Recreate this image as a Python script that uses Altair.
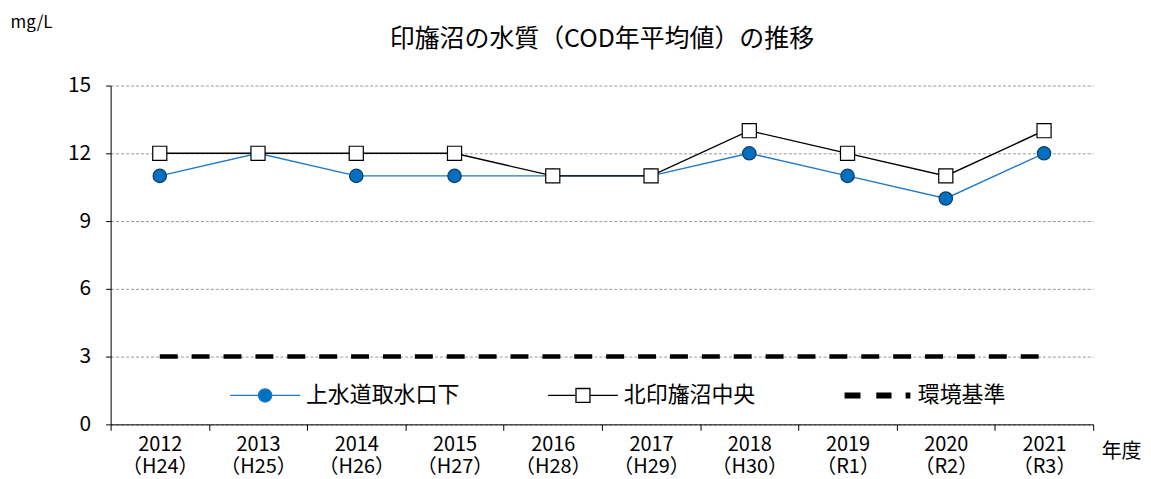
import altair as alt
import pandas as pd

years = ["2012", "2013", "2014", "2015", "2016", "2017", "2018", "2019", "2020", "2021"]
eras = ["（H24）", "（H25）", "（H26）", "（H27）", "（H28）", "（H29）", "（H30）", "（R1）", "（R2）", "（R3）"]
intake = [11, 12, 11, 11, 11, 11, 12, 11, 10, 12]
north = [12, 12, 12, 12, 11, 11, 13, 12, 11, 13]
standard = [3, 3, 3, 3, 3, 3, 3, 3, 3, 3]
series_names = ["上水道取水口下", "北印旛沼中央", "環境基準"]
y_ticks = [0, 3, 6, 9, 12, 15]

FONT = "Noto Sans CJK JP"
BLUE_LINE = "#1f78c8"
BLUE_FILL = "#0070c0"
BLUE_EDGE = "#163a66"

labels = [f"{y}|{e}" for y, e in zip(years, eras)]
rows = []
for name, vals in zip(series_names, [intake, north, standard]):
    for lab, v in zip(labels, vals):
        rows.append({"label": lab, "series": name, "value": v})
df = pd.DataFrame(rows)

x_enc = alt.X(
    "label:N", sort=labels,
    scale=alt.Scale(paddingInner=0, paddingOuter=0),
    axis=alt.Axis(
        title="年度", labelExpr="split(datum.label, '|')", labelAngle=0,
        labelFontSize=20, labelLineHeight=22, labelPadding=4, labelColor="black",
        labelFont=FONT, tickBand="extent", tickSize=6, tickColor="black",
        domainColor="black", titleFont=FONT, titleFontSize=20, titleFontWeight="normal",
        titleAngle=0, titleX=994, titleY=27, titleAlign="left", titleBaseline="middle",
        titleColor="black",
    ),
)
y_enc = alt.Y(
    "value:Q",
    scale=alt.Scale(domain=[0, 15], nice=False),
    axis=alt.Axis(
        title="mg/L", values=y_ticks, labelFontSize=21, labelFont=FONT, labelColor="black",
        labelPadding=15, tickSize=5, tickColor="black", domainColor="black",
        gridColor="#999999", gridDash=[3, 2], gridWidth=1,
        titleAngle=0, titleX=-101, titleY=-63, titleAlign="left", titleBaseline="middle",
        titleFont=FONT, titleFontSize=17, titleFontWeight="normal", titleColor="black",
    ),
)

base = alt.Chart(df)

std_line = base.transform_filter(alt.datum.series == "環境基準").mark_line(
    color="black", strokeWidth=4.5, strokeDash=[18, 14], strokeCap="butt"
).encode(x=x_enc, y=y_enc)

blue_line = base.transform_filter(alt.datum.series == "上水道取水口下").mark_line(
    color=BLUE_LINE, strokeWidth=1.4
).encode(x=x_enc, y=y_enc)
blue_pts = base.transform_filter(alt.datum.series == "上水道取水口下").mark_point(
    shape="circle", filled=True, fill=BLUE_FILL, stroke=BLUE_EDGE, strokeWidth=1.2,
    size=180, opacity=1
).encode(x=x_enc, y=y_enc)

black_line = base.transform_filter(alt.datum.series == "北印旛沼中央").mark_line(
    color="black", strokeWidth=1.4
).encode(x=x_enc, y=y_enc)
black_pts = base.transform_filter(alt.datum.series == "北印旛沼中央").mark_point(
    shape="square", fill="white", stroke="black", strokeWidth=1.2, size=200, opacity=1
).encode(x=x_enc, y=y_enc)

# Legend built from the series names via scales (custom symbol paths)
p_circle = ("M-1,0H-0.19M0.19,0H1M-0.19,0A0.19,0.19 0 1,0 0.19,0A0.19,0.19 0 1,0 -0.19,0Z")
p_square = ("M-1,0H-0.2M0.2,0H1M-0.2,-0.2H0.2V0.2H-0.2Z")
p_dash = ("M-0.91,-0.07H-0.49V0.07H-0.91Z M0,-0.07H0.4V0.07H0Z M0.84,-0.07H0.94V0.07H0.84Z")

leg = alt.Legend(
    title=None, orient="none", legendX=119, legendY=275, direction="horizontal",
    symbolSize=4900, labelFontSize=22, labelFont=FONT, labelColor="black",
    columnPadding=85, padding=0, labelOffset=5, symbolStrokeWidth=1.3,
)
legend_df = pd.DataFrame({"series": series_names, "value": [0, 0, 0]})
legend_layer = alt.Chart(legend_df).transform_filter("false").mark_point(
    opacity=1, strokeWidth=1.3
).encode(
    shape=alt.Shape("series:N", sort=series_names,
                    scale=alt.Scale(domain=series_names, range=[p_circle, p_square, p_dash]),
                    legend=leg),
    fill=alt.Fill("series:N", sort=series_names,
                  scale=alt.Scale(domain=series_names, range=[BLUE_FILL, "white", "black"]),
                  legend=leg),
    stroke=alt.Stroke("series:N", sort=series_names,
                      scale=alt.Scale(domain=series_names, range=[BLUE_LINE, "black", "black"]),
                      legend=leg),
)

chart = alt.layer(std_line, blue_line, blue_pts, black_line, black_pts, legend_layer).properties(
    width=986, height=340,
    padding={"left": 103, "top": 77, "right": 50, "bottom": 54},
    autosize="none",
    title=alt.TitleParams(
        "印旛沼の水質（COD年平均値）の推移", font=FONT, fontSize=25, fontWeight="normal",
        color="black", anchor="middle", frame="group", offset=-38,
    ),
).configure_view(stroke=None)

chart.save("out.html", embed_options={"renderer": "svg", "actions": False})
